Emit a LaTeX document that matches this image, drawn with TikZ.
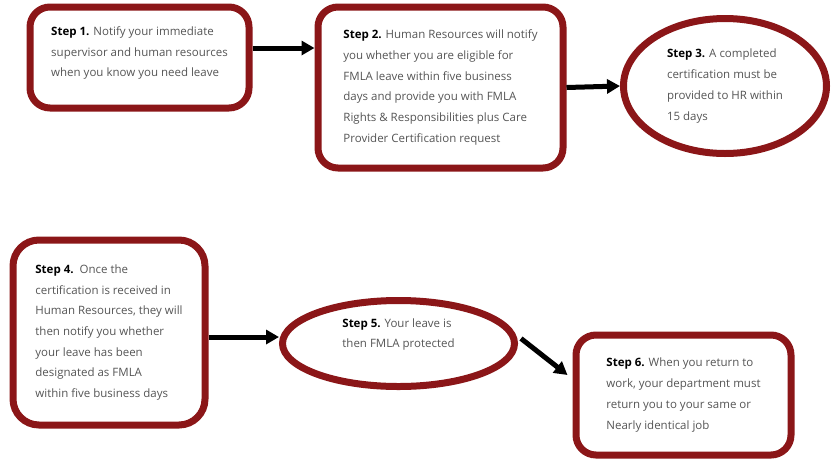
\documentclass[tikz,border=0pt]{standalone}
\usepackage{fontspec}
\setmainfont{Open Sans}
\usepackage{xcolor}
\usetikzlibrary{shapes.geometric,arrows.meta,positioning,calc}
\definecolor{stepred}{RGB}{139, 22, 24}
\definecolor{stepgray}{RGB}{85, 85, 85}
\newcommand{\steplbl}[1]{\textbf{\color{black}Step #1.}}
\begin{document}
\begin{tikzpicture}[x=1pt,y=-1pt,font=\fontsize{11.5}{20.7}\selectfont,box/.style={draw=stepred,line width=7pt,rounded corners=20pt,align=left,text=stepgray,fill=white},oval/.style={draw=stepred,line width=7pt,ellipse,align=left,text=stepgray,fill=white,inner sep=0pt},arr/.style={-{Triangle[length=13pt,width=14pt]},line width=5pt,black}]
\useasboundingbox (0,0) rectangle (833,459);
\node[box,minimum width=219pt,minimum height=101pt](s1) at (139.5,57.5){\steplbl{1} Notify your immediate\\supervisor and human resources\\when you know you need leave\\[-9pt]};
\node[box,minimum width=245pt,minimum height=161pt](s2) at (440.5,87.5){\steplbl{2} Human Resources will notify\\you whether you are eligible for\\FMLA leave within five business\\days and provide you with FMLA\\Rights \& Responsibilities plus Care\\Provider Certification request};
\node[oval,minimum width=203pt,minimum height=135pt](s3) at (725,86){\steplbl{3} A completed\\certification must be\\provided to HR within\\15 days};
\node[box,rounded corners=26pt,minimum width=192pt,minimum height=185pt](s4) at (109,332.5){\steplbl{4}\ \ Once the\\certification is received in\\Human Resources, they will\\then notify you whether\\your leave has been\\designated as FMLA\\within five business days};
\node[oval,minimum width=232pt,minimum height=86pt](s5) at (398.5,343.5){\steplbl{5} Your leave is\\then FMLA protected\\[0pt]};
\node[box,minimum width=215pt,minimum height=120pt](s6) at (683.5,395){\steplbl{6} When you return to\\work, your department must\\return you to your same or\\Nearly identical job};
\draw[arr]([yshift=9.5pt]s1.east)--([yshift=9.5pt]s1.east -| s2.west); \draw[arr](s2.east)--(s3.west);
\draw[arr]([yshift=-4.5pt]s4.east)--([yshift=-4.5pt]s4.east -| s5.west); \draw[arr]([xshift=3pt,yshift=5pt]s5.east)--([xshift=-5pt,yshift=20pt]s6.west);
\end{tikzpicture}
\end{document}
